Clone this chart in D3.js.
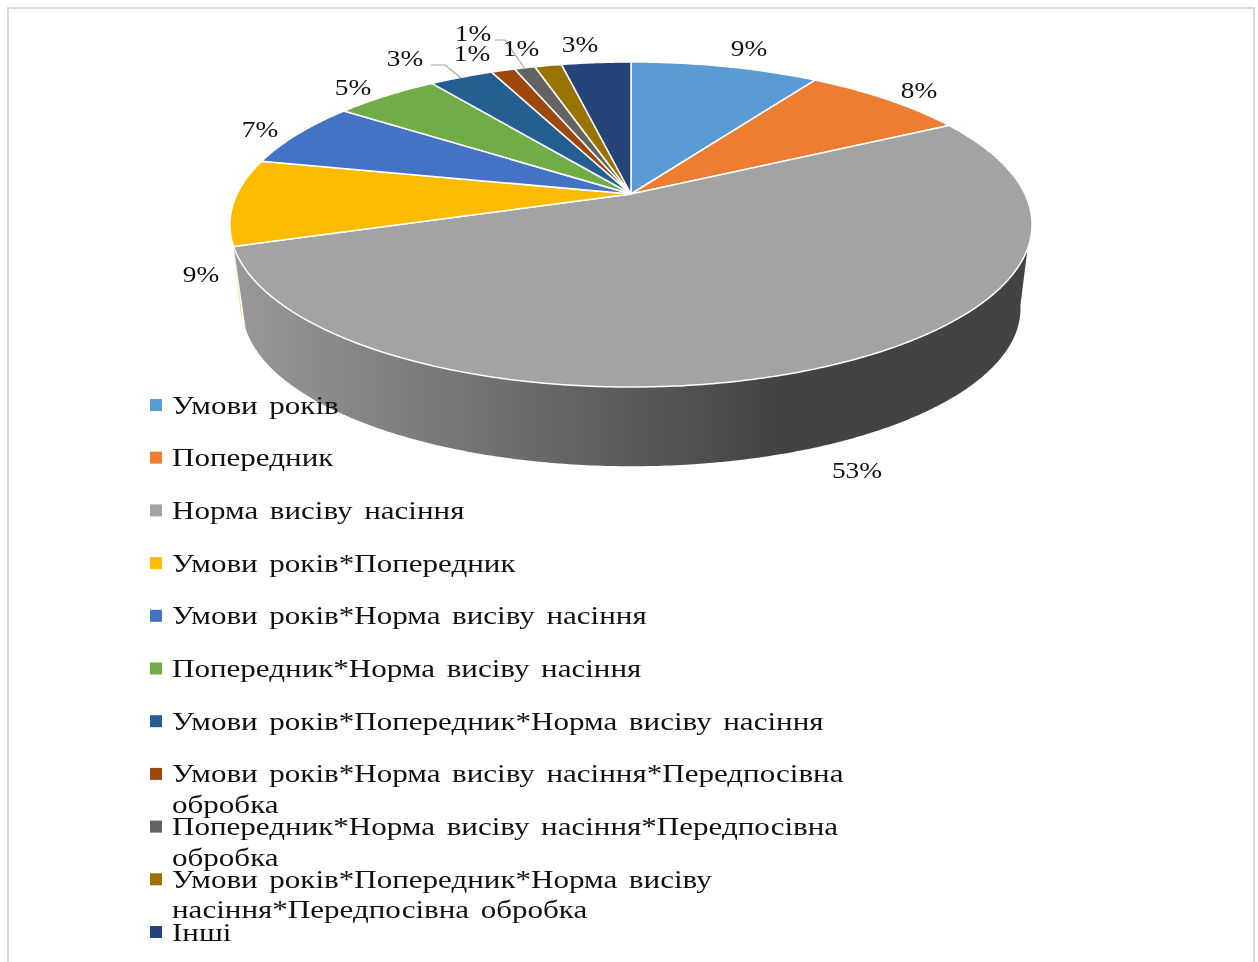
<!DOCTYPE html>
<html><head><meta charset="utf-8">
<script src="https://cdn.jsdelivr.net/npm/d3@7"></script>
<style>html,body{margin:0;padding:0;background:#fff;overflow:hidden}svg{display:block;filter:blur(0.35px)}text{font-family:"Liberation Serif",serif;fill:#111}</style>
</head><body><svg id="c" width="1258" height="962"></svg>
<script>
const categories=["Умови років","Попередник","Норма висіву насіння","Умови років*Попередник","Умови років*Норма висіву насіння","Попередник*Норма висіву насіння","Умови років*Попередник*Норма висіву насіння","Умови років*Норма висіву насіння*Передпосівна обробка","Попередник*Норма висіву насіння*Передпосівна обробка","Умови років*Попередник*Норма висіву насіння*Передпосівна обробка","Інші"];
const values=[9.1,8.0,52.8,8.6,6.5,5.1,3.1,1.15,1.0,1.3,3.35];
const labels=["9%","8%","53%","9%","7%","5%","3%","1%","1%","1%","3%"];
const colors=["#5B9BD5","#ED7D31","#A3A3A3","#FBBC00","#4472C4","#70AD47","#255E91","#9E480E","#636363","#997300","#264478"];
const legendLines=[["Умови років"],["Попередник"],["Норма висіву насіння"],["Умови років*Попередник"],["Умови років*Норма висіву насіння"],["Попередник*Норма висіву насіння"],["Умови років*Попередник*Норма висіву насіння"],["Умови років*Норма висіву насіння*Передпосівна","обробка"],["Попередник*Норма висіву насіння*Передпосівна","обробка"],["Умови років*Попередник*Норма висіву","насіння*Передпосівна обробка"],["Інші"]];
const svg=d3.select("#c");
svg.append("path").attr("d","M8 970V8H1254V970").attr("fill","none").attr("stroke","#d9d9d9").attr("stroke-width",2);
const defs=svg.append("defs");
const g=defs.append("linearGradient").attr("id","side").attr("gradientUnits","userSpaceOnUse").attr("x1",233).attr("x2",1032).attr("y1",0).attr("y2",0);
[[0,"#999999"],[0.2,"#808080"],[0.42,"#646464"],[0.68,"#434343"],[1,"#434343"]].forEach(s=>g.append("stop").attr("offset",s[0]).attr("stop-color",s[1]));
const cx=631,cy=194,a=393.9,b=156.8,k=0.1877;
function proj(x,y,ox=0,oy=0,s=1){const d=1-k*y;return [cx+ox+s*a*x/d,cy+oy+s*b*y/d];}
const pie=d3.pie().sort(null).value(d=>d)(values);
function rim(a0,a1,ox,oy,s){const n=Math.max(2,Math.ceil(Math.abs(a1-a0)/0.01));
  return d3.range(n+1).map(i=>{const t=a0+(a1-a0)*i/n;return proj(Math.sin(t),-Math.cos(t),ox,oy,s);});}
const line=d3.line();
const aL=pie[2].endAngle, aR=Math.PI/2+0.14;
const wallTop=rim(aR,aL,0,0,1), wallBot=rim(aL+0.01,Math.PI/2+0.17,0.5,85,0.97);
svg.append("path").attr("d",line(wallTop.concat(wallBot))+"Z").attr("fill","url(#side)");
svg.append("path").attr("d",line([wallTop[wallTop.length-1],[241,316],[242,316]])+"Z").attr("fill","#FBD46A");
svg.append("g").selectAll("path").data(pie).join("path")
 .attr("d",d=>line([[cx,cy]].concat(rim(d.startAngle,d.endAngle,0,0,1)))+"Z")
 .attr("fill",(d,i)=>colors[i]).attr("stroke","#fff").attr("stroke-width",1.5).attr("stroke-linejoin","round");
const leaders=[[[431,65],[445,65],[461,78]],[[495,40],[505,40],[525,69]]];
svg.append("g").selectAll("path").data(leaders).join("path").attr("d",d=>line(d)).attr("fill","none").attr("stroke","#a6a6a6").attr("stroke-width",1.2);
const labelPos=[[749,56],[919,98],[857,478],[201,282],[260,137],[353,95],[405,66],[473,41],[521,56],[580,52],[472,61]];
const labelOrder=[0,1,2,3,4,5,6,7,8,10,9];
svg.append("g").selectAll("text").data(labelPos).join("text")
 .attr("transform",d=>`translate(${d[0]},${d[1]}) scale(1.14,1)`).attr("text-anchor","middle").attr("font-size",24)
 .text((d,i)=>labels[labelOrder[i]]);
const y0=405,dy=52.7;
const lg=svg.append("g").selectAll("g").data(categories).join("g").attr("transform",(d,i)=>`translate(0,${y0+i*dy})`);
lg.append("rect").attr("x",150).attr("y",-6).attr("width",12).attr("height",12).attr("fill",(d,i)=>colors[i]);
lg.each(function(d,i){const s=d3.select(this);legendLines[i].forEach((t,j)=>{
  s.append("text").attr("transform",`translate(172,${8.5+j*30.5}) scale(1.195,1)`).attr("font-size",26).attr("word-spacing",3.2).text(t);});});
</script></body></html>
